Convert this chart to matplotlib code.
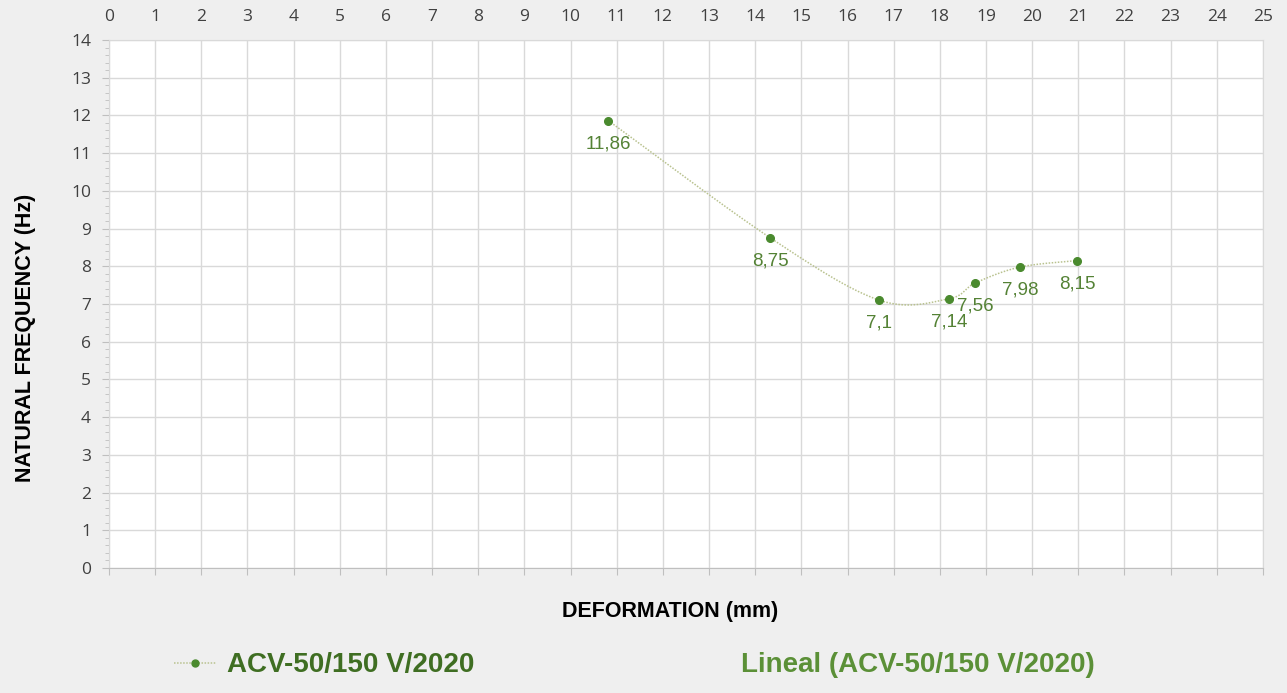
import numpy as np
import matplotlib.pyplot as plt
from matplotlib.lines import Line2D
from matplotlib.ticker import MultipleLocator

# data
deformation = [10.82, 14.33, 16.69, 18.20, 18.77, 19.74, 20.97]
frequency = [11.86, 8.75, 7.10, 7.14, 7.56, 7.98, 8.15]
point_labels = ['11,86', '8,75', '7,1', '7,14', '7,56', '7,98', '8,15']
series_name = 'ACV-50/150 V/2020'
trend_name = 'Lineal (ACV-50/150 V/2020)'

green_dark = '#4a8a2e'
green_text = '#548235'
line_col = '#b9c28f'
grid_col = '#d9d9d9'


def smooth(x, y, n=40):
    # catmull-rom style smoothing, like the "smoothed line" option in a spreadsheet
    x = np.asarray(x, float)
    y = np.asarray(y, float)
    px = np.concatenate([[x[0]], x, [x[-1]]])
    py = np.concatenate([[y[0]], y, [y[-1]]])
    xs, ys = [], []
    t = np.linspace(0, 1, n)
    for i in range(1, len(px) - 2):
        p0, p1, p2, p3 = (np.array([px[j], py[j]]) for j in range(i - 1, i + 3))
        m1 = (p2 - p0) / 2
        m2 = (p3 - p1) / 2
        h00 = 2 * t**3 - 3 * t**2 + 1
        h10 = t**3 - 2 * t**2 + t
        h01 = -2 * t**3 + 3 * t**2
        h11 = t**3 - t**2
        pts = (np.outer(h00, p1) + np.outer(h10, m1)
               + np.outer(h01, p2) + np.outer(h11, m2))
        xs.append(pts[:, 0])
        ys.append(pts[:, 1])
    return np.concatenate(xs), np.concatenate(ys)


fig = plt.figure(figsize=(12.87, 6.93), dpi=100)
fig.patch.set_facecolor('#efefef')
ax = fig.add_axes([0.0847, 0.1804, 0.8966, 0.7619])
ax.set_facecolor('white')

sx, sy = smooth(deformation, frequency)
ax.plot(sx, sy, color=line_col, lw=1.1, ls=(0, (1, 1)), zorder=3)
ax.plot(deformation, frequency, 'o', color=green_dark, ms=5.5, zorder=4)

for xv, yv, lab in zip(deformation, frequency, point_labels):
    ax.annotate(lab, (xv, yv), xytext=(0, -16.5), textcoords='offset points',
                ha='center', va='center', color=green_text, fontsize=13.5,
                family='Liberation Sans', zorder=5)

ax.set_xlim(0, 25)
ax.set_ylim(0, 14)
ax.xaxis.set_major_locator(MultipleLocator(1))
ax.yaxis.set_major_locator(MultipleLocator(1))
ax.yaxis.set_minor_locator(MultipleLocator(0.2))
ax.grid(True, which='major', color=grid_col, lw=1.0)
ax.set_axisbelow(True)

# x labels on top, tick marks at the bottom
ax.tick_params(axis='x', which='major', top=False, labeltop=True,
               bottom=True, labelbottom=False, length=5, color='#bfbfbf',
               labelsize=12.5, labelcolor='#404040', pad=6)
ax.tick_params(axis='y', which='major', length=5, color='#bfbfbf',
               labelsize=12.5, labelcolor='#404040', pad=8)
ax.tick_params(axis='y', which='minor', length=3, color='#bfbfbf')
for lab in ax.get_xticklabels() + ax.get_yticklabels():
    lab.set_family('Open Sans')

for s in ax.spines.values():
    s.set_color(grid_col)
ax.spines['bottom'].set_color('#bfbfbf')

fig.text(0.521, 0.118, 'DEFORMATION (mm)', ha='center', va='center',
         fontsize=15.5, fontweight='bold', family='Liberation Sans', color='black')
fig.text(0.0195, 0.512, 'NATURAL FREQUENCY (Hz)', ha='center', va='center',
         rotation=90, fontsize=15.5, fontweight='bold', family='Liberation Sans',
         color='black')

handles = [Line2D([], [], color=line_col, ls=(0, (1, 1)), lw=1.1,
                  marker='o', ms=5, mfc=green_dark, mec=green_dark),
           Line2D([], [], color='none')]
leg = fig.legend(handles, [series_name, trend_name], loc='center',
                 bbox_to_anchor=(0.493, 0.04), ncol=2, frameon=False,
                 handlelength=1.5, handletextpad=0.4, columnspacing=7.7,
                 prop={'family': 'Liberation Sans', 'weight': 'bold', 'size': 20})
leg.get_texts()[0].set_color('#3f6e22')
leg.get_texts()[1].set_color('#5b9037')

fig.savefig('out.png', dpi=100, facecolor=fig.get_facecolor())
